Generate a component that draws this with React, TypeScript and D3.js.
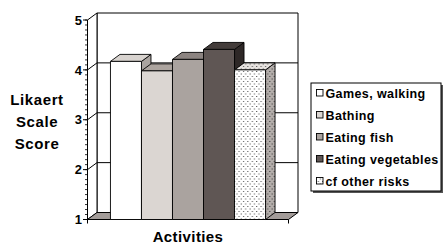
import { useMemo } from "react";
import * as d3 from "d3";

const series = ["Games, walking", "Bathing", "Eating fish", "Eating vegetables", "cf other risks"];
const scores = [4.17, 3.98, 4.21, 4.41, 4.0];
const yTicks = [1, 2, 3, 4, 5];
const categoryLabel = "Activities";
const yTitle = ["Likaert", "Scale", "Score"];

const frontFill = ["#ffffff", "#dbd6d2", "#aaa39f", "#5f5654", "url(#dots)"];
const topFill = ["#d8d3cf", "#aca49f", "#8c8481", "#433c3a", "url(#dotsTop)"];
const sideFill = ["#aaa4a0", "#8b837f", "#6f6764", "#2e2827", "url(#dotsSide)"];
const legendFill = ["#ffffff", "#dbd6d2", "#aaa39f", "#5f5654", "url(#dots)"];

const W = 443;
const H = 245;
const DX = 9.5;
const DY = -7;
const FONT = "'Liberation Sans', Arial, sans-serif";

const pts = (p: number[][]) => p.map((d) => d.join(",")).join(" ");

const App = () => {
  const y = useMemo(() => d3.scaleLinear().domain([1, 5]).range([219.5, 20]), []);
  const x = useMemo(
    () => d3.scaleBand().domain(series).range([87.5, 288.5]).paddingInner(0).paddingOuter(0.74),
    []
  );

  const x0 = 87.5;
  const x1 = 288.5;
  const yTop = y(5);
  const yBot = y(1);
  const bw = x.bandwidth();
  const minor = d3.range(1, 5.001, 0.1);

  return (
    <svg width={W} height={H} style={{ position: "absolute", left: 0, top: 0, background: "#fff" }}>
      <defs>
        <pattern id="dots" width="4.4" height="5" patternUnits="userSpaceOnUse">
          <rect width="4.4" height="5" fill="#fff" />
          <rect x="1" y="1" width="1" height="1" fill="#444" />
          <rect x="3.2" y="3.5" width="1" height="1" fill="#444" />
        </pattern>
        <pattern id="dotsTop" width="4.4" height="5" patternUnits="userSpaceOnUse">
          <rect width="4.4" height="5" fill="#e6e2df" />
          <rect x="1" y="1" width="1" height="1" fill="#444" />
          <rect x="3.2" y="3.5" width="1" height="1" fill="#444" />
        </pattern>
        <pattern id="dotsSide" width="4.4" height="5" patternUnits="userSpaceOnUse">
          <rect width="4.4" height="5" fill="#b3adaa" />
          <rect x="1" y="1" width="1" height="1" fill="#333" />
          <rect x="3.2" y="3.5" width="1" height="1" fill="#333" />
        </pattern>
      </defs>

      {/* walls + floor */}
      <polygon
        points={pts([[x0 + DX, yTop + DY], [x1 + DX, yTop + DY], [x1 + DX, yBot + DY], [x0 + DX, yBot + DY]])}
        fill="#fff" stroke="#000" strokeWidth={1}
      />
      <polygon
        points={pts([[x0, yTop], [x0 + DX, yTop + DY], [x0 + DX, yBot + DY], [x0, yBot]])}
        fill="#fff" stroke="#000" strokeWidth={1}
      />
      <polygon
        points={pts([[x0, yBot], [x1, yBot], [x1 + DX, yBot + DY], [x0 + DX, yBot + DY]])}
        fill="#a39c99" stroke="#000" strokeWidth={1}
      />
      {yTicks.slice(1, -1).map((t) => (
        <g key={t} stroke="#000" strokeWidth={1}>
          <line x1={x0 + DX} x2={x1 + DX} y1={y(t) + DY} y2={y(t) + DY} />
          <line x1={x0} x2={x0 + DX} y1={y(t)} y2={y(t) + DY} />
        </g>
      ))}

      {/* bars */}
      {series.map((s, i) => {
        const xl = x(s) as number;
        const xr = xl + bw;
        const yt = y(scores[i]);
        return (
          <g key={s} stroke="#000" strokeWidth={0.9} strokeLinejoin="round">
            <polygon points={pts([[xr, yt], [xr + DX, yt + DY], [xr + DX, yBot + DY], [xr, yBot]])} fill={sideFill[i]} />
            <polygon points={pts([[xl, yt], [xr, yt], [xr + DX, yt + DY], [xl + DX, yt + DY]])} fill={topFill[i]} />
            <rect x={xl} y={yt} width={bw} height={yBot - yt} fill={frontFill[i]} />
          </g>
        );
      })}

      {/* y axis */}
      <line x1={x0} x2={x0} y1={yTop} y2={yBot} stroke="#000" strokeWidth={1} />
      {minor.map((t) => (
        <line key={t} x1={x0 - 2.5} x2={x0} y1={y(t)} y2={y(t)} stroke="#000" strokeWidth={0.8} />
      ))}
      {yTicks.map((t) => (
        <g key={t}>
          <line x1={x0 - 4.5} x2={x0} y1={y(t)} y2={y(t)} stroke="#000" strokeWidth={1} />
          <text
            x={82} y={y(t)} dy="0.36em" textAnchor="end"
            fontFamily={FONT} fontWeight="bold" fontSize={13} fill="#000"
          >
            {t}
          </text>
        </g>
      ))}
      {/* category axis end ticks */}
      <line x1={x0} x2={x0} y1={yBot} y2={yBot + 4} stroke="#000" />
      <line x1={x1} x2={x1} y1={yBot} y2={yBot + 4} stroke="#000" />

      {/* titles */}
      {yTitle.map((t, i) => (
        <text
          key={t} x={37} y={105 + i * 22} textAnchor="middle"
          fontFamily={FONT} fontWeight="bold" fontSize={15} letterSpacing={0.6} fill="#000"
        >
          {t}
        </text>
      ))}
      <text
        x={188} y={242} textAnchor="middle"
        fontFamily={FONT} fontWeight="bold" fontSize={15} letterSpacing={0.4} fill="#000"
      >
        {categoryLabel}
      </text>

      {/* legend */}
      <rect x={313} y={85} width={130} height={108} fill="#555" />
      <rect x={311} y={83} width={130} height={108} fill="#fff" stroke="#000" strokeWidth={1} />
      {series.map((s, i) => {
        const cy = 93 + i * 22;
        return (
          <g key={s}>
            <rect x={316.5} y={cy - 3.5} width={6.5} height={6.5} fill={legendFill[i]} stroke="#000" strokeWidth={0.9} />
            <text
              x={325.5} y={cy} dy="0.36em"
              fontFamily={FONT} fontWeight="bold" fontSize={12.5} letterSpacing={0.4} fill="#000"
            >
              {s}
            </text>
          </g>
        );
      })}
    </svg>
  );
};

export default App;
